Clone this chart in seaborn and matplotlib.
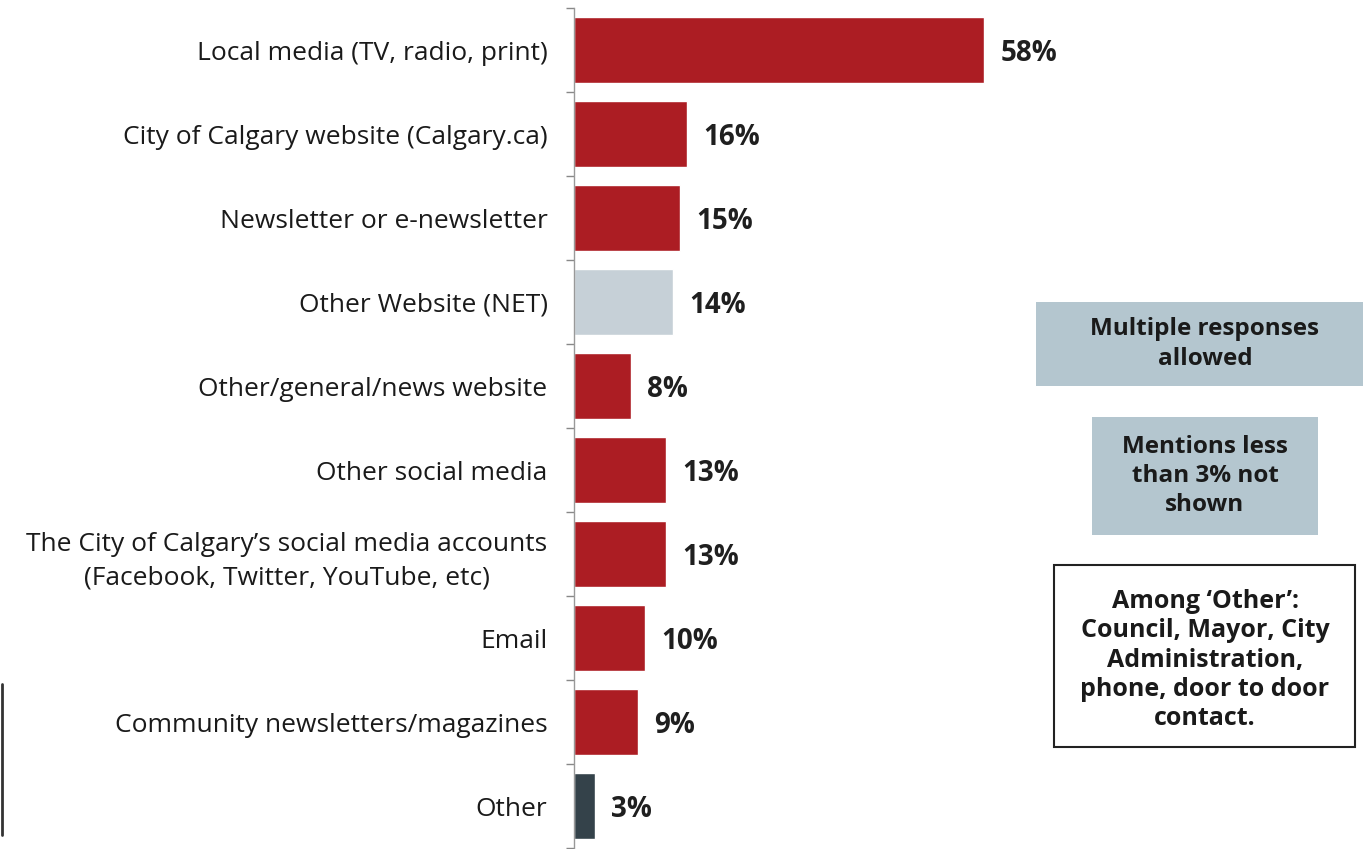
import numpy as np
import pandas as pd
import matplotlib
matplotlib.use('Agg')
import matplotlib.pyplot as plt
import seaborn as sns
from matplotlib.patches import Rectangle

# Data
channels = [
    'Local media (TV, radio, print)',
    'City of Calgary website (Calgary.ca)',
    'Newsletter or e-newsletter',
    'Other Website (NET)',
    'Other/general/news website',
    'Other social media',
    "The City of Calgary\u2019s social media accounts\n(Facebook, Twitter, YouTube, etc)",
    'Email',
    'Community newsletters/magazines',
    'Other',
]
percents = [58, 16, 15, 14, 8, 13, 13, 10, 9, 3]
bar_colors = ['#ac1d23'] * 3 + ['#c6d0d7'] + ['#ac1d23'] * 5 + ['#34424a']

df = pd.DataFrame({'channel': channels, 'pct': percents})

sns.set_style('white')
plt.rcParams['font.family'] = ['Open Sans', 'DejaVu Sans']

fig = plt.figure(figsize=(13.63, 8.49), dpi=100)
ax = fig.add_axes([574 / 1363, 1 / 849, 1 - 574 / 1363, 840 / 849])

sns.barplot(data=df, x='pct', y='channel', hue='channel',
            palette=dict(zip(channels, bar_colors)), legend=False,
            width=0.78, saturation=1, ax=ax)

ax.set_xlim(0, (1363 - 574) / 7.07)
ax.set_ylim(len(channels) - 0.5, -0.5)
ax.set_xlabel('')
ax.set_ylabel('')
ax.set_xticks([])

# category labels at bar centres, tick marks between bars
ax.set_yticks(range(len(channels)))
ax.set_yticklabels(channels, fontsize=19, color='#1a1a1a', ha='right',
                   multialignment='center')
for lbl in ax.get_yticklabels():
    lbl.set_linespacing(1.45)
ax.tick_params(axis='y', which='major', length=0, pad=19)
ax.set_yticks(np.arange(-0.5, len(channels), 1), minor=True)
ax.tick_params(axis='y', which='minor', length=6, width=1, color='#888888',
               direction='out', left=True)

for side in ['top', 'right', 'bottom']:
    ax.spines[side].set_visible(False)
ax.spines['left'].set_color('#999999')
ax.spines['left'].set_linewidth(1)

# value labels
for i, v in enumerate(percents):
    ax.text(v + 2.3, i + 0.04, f'{v}%', va='center', ha='left',
            fontsize=20, fontweight='bold', color='#1f1f1f')

# side notes
box_fill = '#b4c6cf'
fig.patches.append(Rectangle((1036 / 1363, 1 - 386 / 849), 327 / 1363, 84 / 849,
                             transform=fig.transFigure, facecolor=box_fill,
                             edgecolor='none'))
fig.text(1205 / 1363, 1 - 344 / 849, 'Multiple responses\nallowed',
         ha='center', va='center', fontsize=17.5, fontweight='bold',
         color='#1a1a1a', linespacing=1.3)

fig.patches.append(Rectangle((1092 / 1363, 1 - 535 / 849), 226 / 1363, 118 / 849,
                             transform=fig.transFigure, facecolor=box_fill,
                             edgecolor='none'))
fig.text(1205 / 1363, 1 - 476 / 849, 'Mentions less\nthan 3% not\nshown',
         ha='center', va='center', fontsize=17.5, fontweight='bold',
         color='#1a1a1a', linespacing=1.3)

fig.patches.append(Rectangle((1054 / 1363, 1 - 747 / 849), 301 / 1363, 182 / 849,
                             transform=fig.transFigure, facecolor='white',
                             edgecolor='#222222', linewidth=1.5))
fig.text(1205 / 1363, 1 - 660 / 849,
         "Among \u2018Other\u2019:\nCouncil, Mayor, City\nAdministration,\nphone, door to door\ncontact.",
         ha='center', va='center', fontsize=18, fontweight='bold',
         color='#1a1a1a', linespacing=1.22)

# stray dark line at the left edge of the scan
fig.add_artist(plt.Line2D([1.5 / 1363, 1.5 / 1363], [1 - 835 / 849, 1 - 684 / 849],
                          transform=fig.transFigure, color='#333333', linewidth=2))

fig.savefig('out.png', dpi=100)
